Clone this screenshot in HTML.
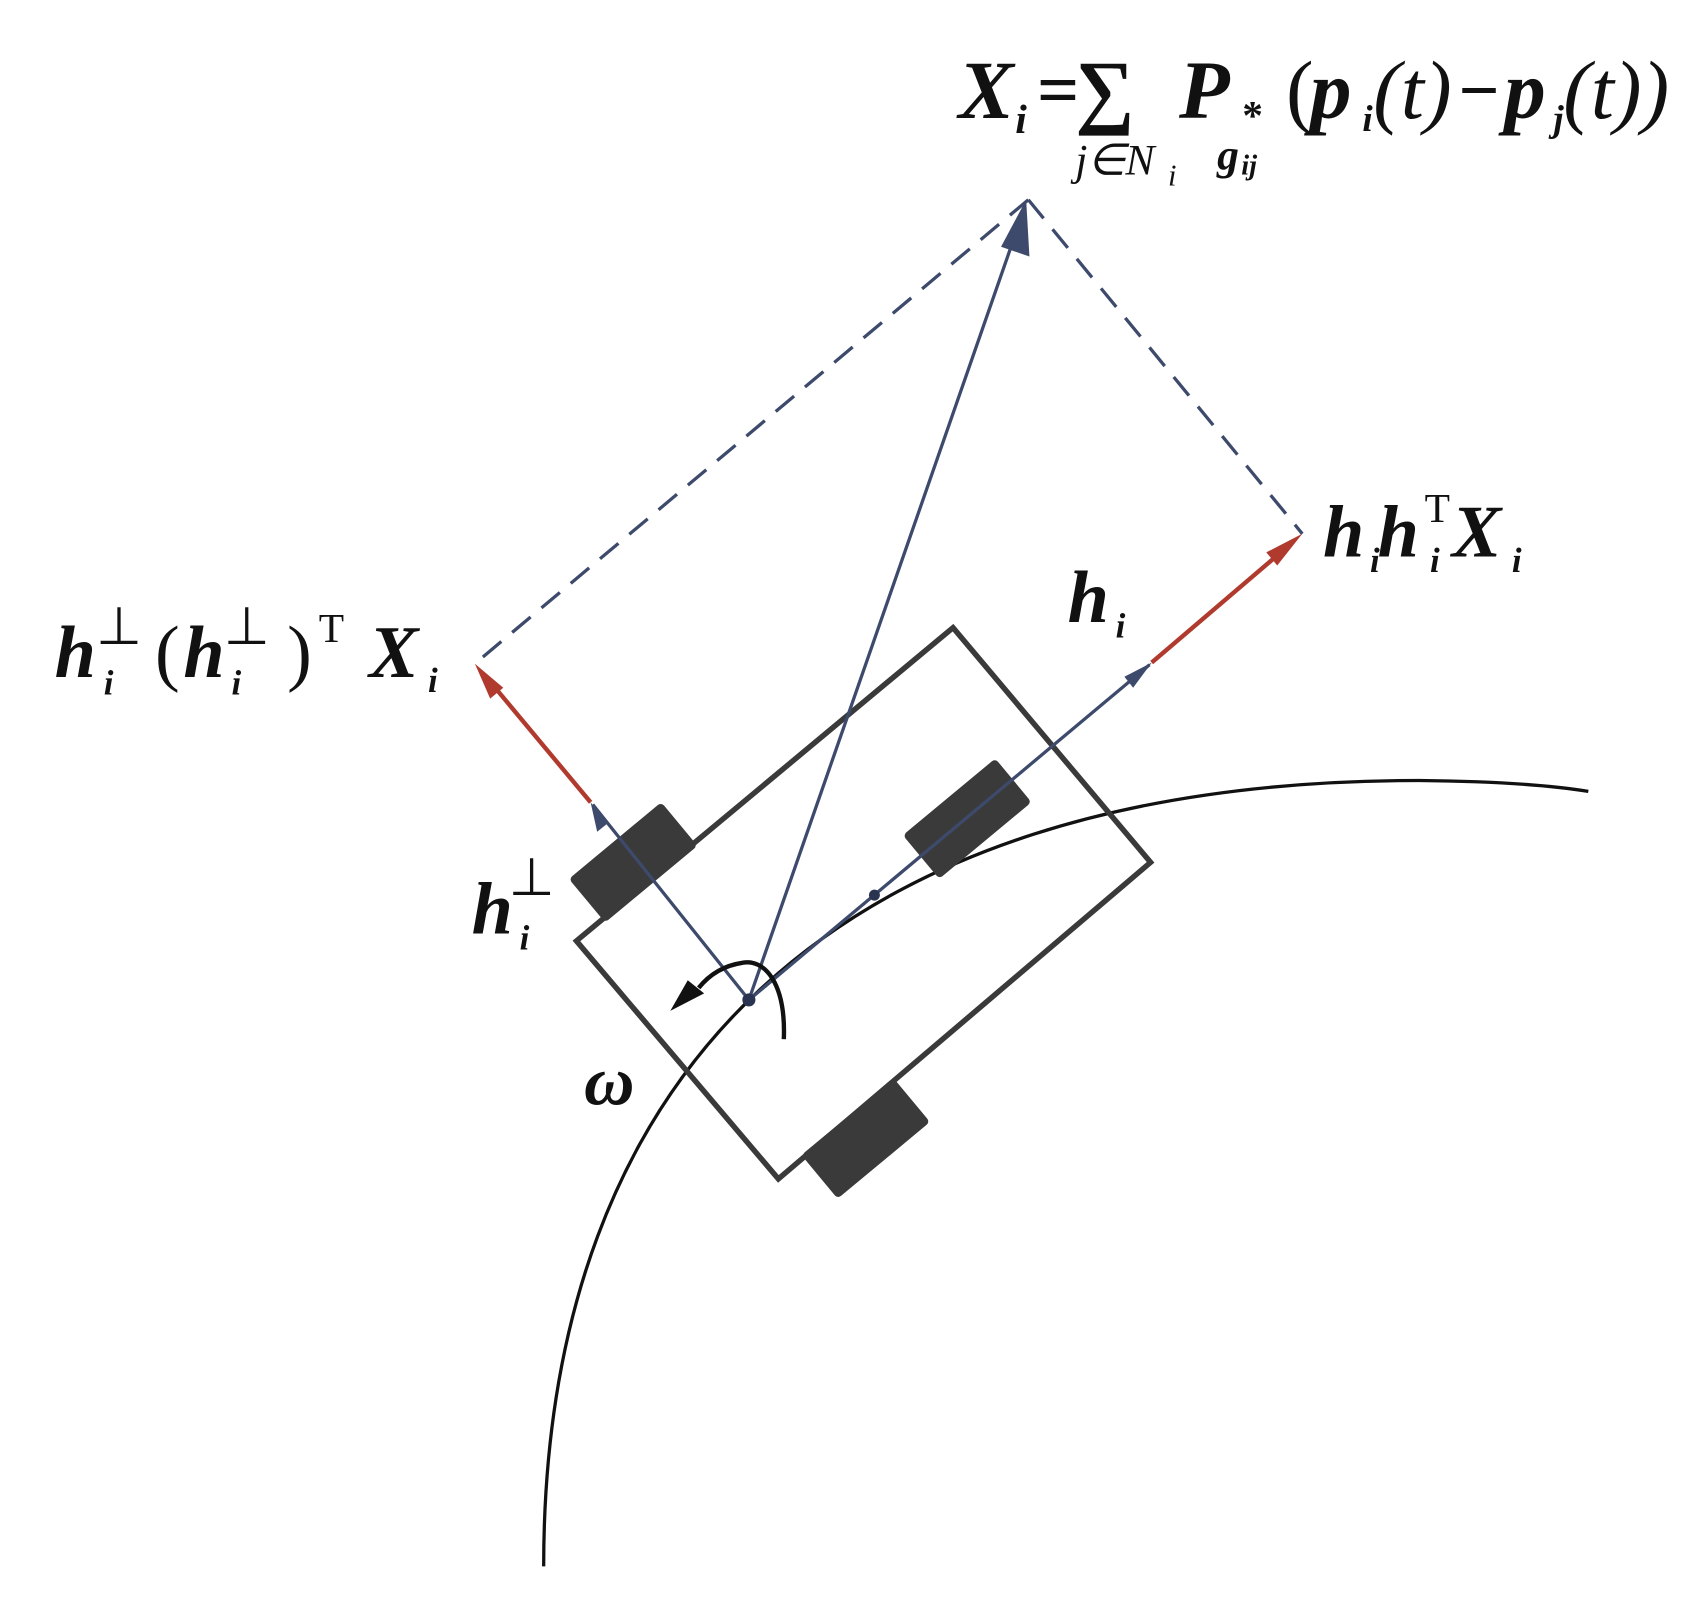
<!DOCTYPE html>
<html><head><style>
html,body{margin:0;padding:0;background:#fff;}
svg{display:block;}
text{font-family:"Liberation Serif",serif;font-weight:bold;font-style:italic;fill:#111;}
</style></head><body>
<svg width="1703" height="1597" viewBox="0 0 1560 1463" xmlns="http://www.w3.org/2000/svg">
<!-- curve -->
<path d="M498,1435 C498,985 760,715 1300,715 Q1400,716 1455,725" fill="none" stroke="#111" stroke-width="3"/>
<!-- rectangle -->
<polygon points="873,575 1054,790 713,1080 528,862" fill="none" stroke="#3a3a3a" stroke-width="5"/>
<!-- wheels -->
<g fill="#3a3a3a">
<rect x="-55" y="-26" width="110" height="52" rx="4" transform="translate(580,790) rotate(-39.7)"/>
<rect x="-55" y="-26" width="110" height="52" rx="4" transform="translate(886,750) rotate(-39.7)"/>
<rect x="-55" y="-26" width="110" height="52" rx="4" transform="translate(793,1043) rotate(-39.7)"/>
</g>
<!-- dashed -->
<path d="M942,183 L1193,489 M942,183 L435,608" fill="none" stroke="#3d4a6b" stroke-width="3" stroke-dasharray="22,13"/>
<!-- blue vectors -->
<line x1="686" y1="916" x2="1053" y2="609" stroke="#3d4a6b" stroke-width="3"/>
<polygon points="1055,607 1030,620 1038,630" fill="#3d4a6b"/>
<line x1="686" y1="916" x2="543" y2="737" stroke="#3d4a6b" stroke-width="3"/>
<polygon points="541,735 547,762 557,754" fill="#3d4a6b"/>
<line x1="686" y1="916" x2="930" y2="215" stroke="#3d4a6b" stroke-width="3"/>
<polygon points="940,183 917,226 943,235" fill="#3d4a6b"/>
<!-- red vectors -->
<line x1="1055" y1="607" x2="1178" y2="502" stroke="#b03a2e" stroke-width="4"/>
<polygon points="1193,489 1160,506 1170,518" fill="#b03a2e"/>
<line x1="541" y1="735" x2="446" y2="621" stroke="#b03a2e" stroke-width="4"/>
<polygon points="435,608 449,640 461,630" fill="#b03a2e"/>
<!-- dots -->
<circle cx="686" cy="916" r="6" fill="#2a3350"/>
<circle cx="801" cy="820" r="5" fill="#2a3350"/>
<!-- omega arc -->
<path d="M718,952 C720,900 700,878 680,882 C660,885 648,895 640,905" fill="none" stroke="#111" stroke-width="4"/>
<polygon points="614,926 630,898 645,910" fill="#111"/>
<!-- labels -->
<text x="878" y="108" font-size="76">X</text>
<text x="930" y="122" font-size="38">i</text>
<text x="950" y="105" font-size="68" style="font-style:normal">=</text>
<text x="985" y="108" font-size="76" style="font-style:normal">∑</text>
<text x="1080" y="108" font-size="76">P</text>
<text x="1138" y="118" font-size="38" style="font-style:normal">*</text>
<text x="1115" y="155" font-size="40">g</text>
<text x="1137" y="160" font-size="26">ij</text>
<text x="985" y="160" font-size="40" style="font-weight:normal">j∈N</text>
<text x="1070" y="170" font-size="28" style="font-weight:normal">i</text>
<text x="1178" y="108" font-size="76" style="font-style:normal;font-weight:normal">(</text>
<text x="1200" y="108" font-size="76">p</text>
<text x="1248" y="120" font-size="34">i</text>
<text x="1258" y="108" font-size="76" style="font-weight:normal">(t)</text>
<text x="1336" y="105" font-size="66" style="font-style:normal">−</text>
<text x="1378" y="108" font-size="76">p</text>
<text x="1423" y="120" font-size="34">j</text>
<text x="1432" y="108" font-size="76" style="font-weight:normal">(t))</text>

<text x="1212" y="510" font-size="68">h</text>
<text x="1255" y="524" font-size="32">i</text>
<text x="1262" y="510" font-size="68">h</text>
<text x="1305" y="478" font-size="38" style="font-style:normal;font-weight:normal">T</text>
<text x="1310" y="524" font-size="32">i</text>
<text x="1330" y="510" font-size="68">X</text>
<text x="1385" y="524" font-size="32">i</text>

<text x="978" y="570" font-size="68">h</text>
<text x="1022" y="584" font-size="32">i</text>

<text x="50" y="620" font-size="68">h</text>
<text x="95" y="636" font-size="32">i</text>
<text x="88" y="590" font-size="48" style="font-style:normal;font-weight:normal">⊥</text>
<text x="142" y="620" font-size="68" style="font-style:normal;font-weight:normal">(</text>
<text x="168" y="620" font-size="68">h</text>
<text x="212" y="636" font-size="32">i</text>
<text x="205" y="590" font-size="48" style="font-style:normal;font-weight:normal">⊥</text>
<text x="263" y="620" font-size="68" style="font-style:normal;font-weight:normal">)</text>
<text x="292" y="588" font-size="38" style="font-style:normal;font-weight:normal">T</text>
<text x="338" y="620" font-size="68">X</text>
<text x="392" y="634" font-size="32">i</text>

<text x="432" y="855" font-size="68">h</text>
<text x="476" y="870" font-size="32">i</text>
<text x="466" y="820" font-size="48" style="font-style:normal;font-weight:normal">⊥</text>

<text x="535" y="1012" font-size="64">ω</text>
</svg>
</body></html>
